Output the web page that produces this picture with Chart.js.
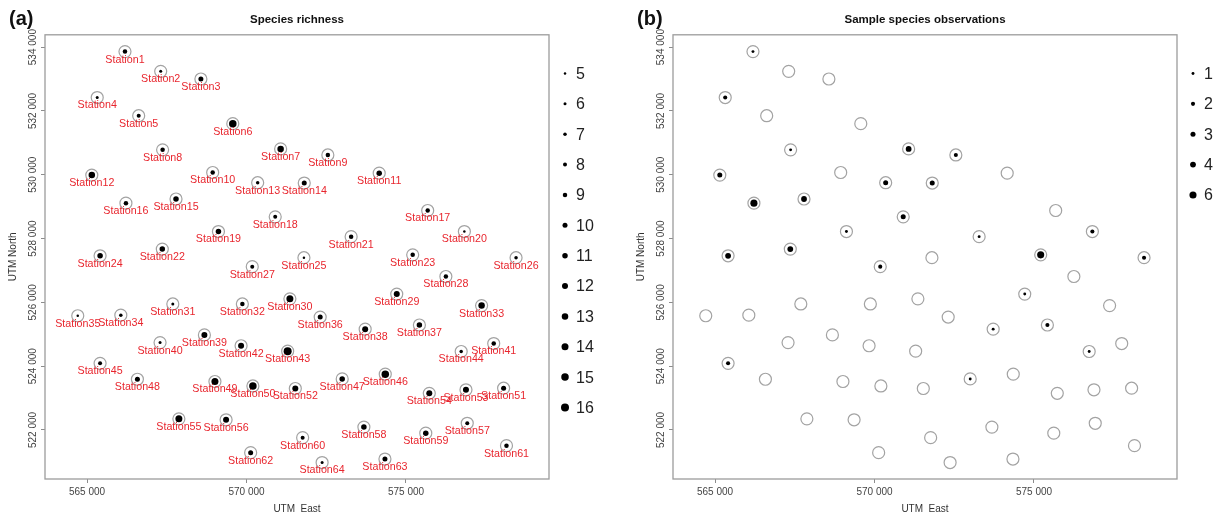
<!DOCTYPE html>
<html>
<head>
<meta charset="utf-8">
<script src="https://cdn.jsdelivr.net/npm/chart.js@4"></script>
<style>
body { margin: 0; background: #fff; width: 1226px; height: 515px; overflow: hidden; position: relative; }
canvas { position: absolute; top: 0; }
#chartA { left: 0; }
#chartB { left: 628px; }
</style>
</head>
<body>
<canvas id="chartA" width="613" height="515"></canvas>
<canvas id="chartB" width="598" height="515"></canvas>
<script>
var stations = ["Station1", "Station2", "Station3", "Station4", "Station5", "Station6", "Station7", "Station8",
	"Station9", "Station10", "Station11", "Station12", "Station13", "Station14", "Station15", "Station16",
	"Station17", "Station18", "Station19", "Station20", "Station21", "Station22", "Station23", "Station24",
	"Station25", "Station26", "Station27", "Station28", "Station29", "Station30", "Station31", "Station32",
	"Station33", "Station34", "Station35", "Station36", "Station37", "Station38", "Station39", "Station40",
	"Station41", "Station42", "Station43", "Station44", "Station45", "Station46", "Station47", "Station48",
	"Station49", "Station50", "Station51", "Station52", "Station53", "Station54", "Station55", "Station56",
	"Station57", "Station58", "Station59", "Station60", "Station61", "Station62", "Station63", "Station64"];

// UTM coordinates of the stations
var easting = [566190, 567310, 568570, 565320, 566620, 569570, 571070, 567370,
	572550, 568940, 574160, 565150, 570350, 571810, 567790, 566220,
	575680, 570900, 569120, 576830, 573280, 567360, 575210, 565410,
	571800, 578450, 570180, 576250, 574710, 571360, 567690, 569870,
	577370, 566060, 564710, 572310, 575420, 573720, 568680, 567290,
	577750, 569830, 571290, 576730, 565410, 574350, 573000, 566580,
	569010, 570200, 578060, 571530, 576880, 575730, 567880, 569360,
	576920, 573680, 575620, 571760, 578150, 570130, 574340, 572370];
var northing = [533860, 533240, 533000, 532420, 531850, 531600, 530810, 530780,
	530620, 530070, 530050, 529990, 529750, 529740, 529240, 529110,
	528880, 528680, 528220, 528220, 528060, 527670, 527490, 527460,
	527400, 527400, 527120, 526810, 526260, 526110, 525950, 525950,
	525900, 525600, 525580, 525540, 525290, 525160, 524980, 524740,
	524710, 524640, 524470, 524460, 524090, 523750, 523600, 523590,
	523520, 523380, 523310, 523300, 523260, 523150, 522350, 522320,
	522210, 522090, 521900, 521760, 521510, 521290, 521090, 520980];

var richness = [9, 6, 10, 6, 8, 15, 13, 9,
	9, 9, 11, 13, 7, 10, 11, 9,
	9, 8, 11, 5, 9, 11, 9, 11,
	5, 7, 8, 9, 12, 14, 6, 9,
	13, 7, 5, 10, 11, 12, 12, 6,
	9, 12, 16, 7, 8, 15, 11, 10,
	14, 15, 10, 12, 12, 12, 14, 12,
	8, 11, 11, 8, 9, 10, 10, 6];
var observations = [1, 0, 0, 2, 0, 0, 4, 1,
	2, 0, 0, 3, 3, 3, 4, 6,
	0, 3, 1, 2, 1, 4, 6, 4,
	0, 2, 2, 0, 1, 0, 0, 0,
	0, 0, 0, 0, 2, 1, 0, 0,
	0, 0, 0, 1, 2, 0, 1, 0,
	0, 0, 0, 0, 0, 0, 0, 0,
	0, 0, 0, 0, 0, 0, 0, 0];

var richnessLegend = [5, 6, 7, 8, 9, 10, 11, 12, 13, 14, 15, 16];
var observationLegend = [1, 2, 3, 4, 6];
var xTicks = [565000, 570000, 575000];
var yTicks = [522000, 524000, 526000, 528000, 530000, 532000, 534000];

Chart.defaults.font.family = "'Liberation Sans', Arial, sans-serif";

function fmt(v) {
	return String(v).replace(/\B(?=(\d{3})+(?!\d))/g, " ");
}
function richnessRadius(v) {
	return v / 4;
}
function obsRadius(v) {
	return v > 0 ? 1.45 * Math.sqrt(v) : 0;
}

var points = easting.map(function (e, i) {
	return { x: e, y: northing[i] };
});

// box, panel letter and size legend
var frame = {
	id: "frame",
	afterDraw: function (chart, args, o) {
		var c = chart.ctx, a = chart.chartArea;
		c.save();
		c.strokeStyle = "#9c9c9c";
		c.lineWidth = 1.3;
		c.strokeRect(a.left, a.top, a.right - a.left, a.bottom - a.top);
		c.fillStyle = "#111";
		c.font = "bold 20px 'Liberation Sans', Arial, sans-serif";
		c.textBaseline = "middle";
		c.textAlign = "left";
		c.fillText(o.letter, 9, 19);
		c.font = "16px 'Liberation Sans', Arial, sans-serif";
		o.values.forEach(function (v, i) {
			var y = 73.5 + i * 30.36;
			c.fillStyle = "#000";
			c.beginPath();
			c.arc(a.right + 16, y, o.radius(v), 0, Math.PI * 2);
			c.fill();
			c.fillStyle = "#222";
			c.fillText(v, a.right + 27, y + 1);
		});
		c.restore();
	}
};

var stationLabels = {
	id: "stationLabels",
	afterDatasetsDraw: function (chart, args, opts) {
		if (!opts.names) return;
		var c = chart.ctx;
		c.save();
		c.fillStyle = "#e8262e";
		c.font = "10.7px 'Liberation Sans', Arial, sans-serif";
		c.textAlign = "center";
		c.textBaseline = "middle";
		chart.getDatasetMeta(0).data.forEach(function (pt, i) {
			c.fillText(opts.names[i], pt.x, pt.y + 8);
		});
		c.restore();
	}
};

function panel(id, title, letter, values, radius, legendValues, names, padRight) {
	return new Chart(document.getElementById(id), {
		type: "scatter",
		data: {
			datasets: [
				{
					data: points,
					pointRadius: 6,
					pointBorderColor: "#a3a3a3",
					pointBackgroundColor: "rgba(255,255,255,0)",
					pointBorderWidth: 1.2,
				},
				{
					data: points,
					pointRadius: function (ctx) {
						return radius(values[ctx.dataIndex]);
					},
					pointBackgroundColor: "#000",
					pointBorderWidth: 0,
				},
			],
		},
		options: {
			responsive: false,
			animation: false,
			events: [],
			layout: { padding: { left: 0, right: padRight, top: 0, bottom: 0 } },
			plugins: {
				legend: { display: false },
				tooltip: { enabled: false },
				title: {
					display: true,
					text: title,
					fullSize: false,
					color: "#111",
					font: { size: 11.5, weight: "bold" },
					padding: { top: 13, bottom: 8 },
				},
				frame: { letter: letter, values: legendValues, radius: radius },
				stationLabels: { names: names },
			},
			scales: {
				x: {
					type: "linear",
					min: 563683,
					max: 579483,
					afterBuildTicks: function (s) {
						s.ticks = xTicks.map(function (v) { return { value: v }; });
					},
					afterFit: function (s) { s.height = 36; },
					grid: { drawOnChartArea: false, tickLength: 4, color: "#8c8c8c" },
					border: { display: false },
					ticks: { padding: 3, maxRotation: 0, color: "#444", font: { size: 10 }, callback: fmt },
					title: { display: true, text: "UTM  East", color: "#333", font: { size: 10 }, padding: 0 },
				},
				y: {
					type: "linear",
					min: 520464,
					max: 534386,
					afterBuildTicks: function (s) {
						s.ticks = yTicks.map(function (v) { return { value: v }; });
					},
					afterFit: function (s) { s.width = 45; },
					grid: { drawOnChartArea: false, tickLength: 4, color: "#8c8c8c" },
					border: { display: false },
					ticks: {
						padding: -10,
						minRotation: 90,
						maxRotation: 90,
						crossAlign: "center",
						color: "#444",
						font: { size: 10 },
						callback: fmt,
					},
					title: { display: true, text: "UTM North", color: "#333", font: { size: 10 }, padding: { top: 7, bottom: 0 } },
				},
			},
		},
		plugins: [frame, stationLabels],
	});
}

panel("chartA", "Species richness", "(a)", richness, richnessRadius, richnessLegend, stations, 64);
panel("chartB", "Sample species observations", "(b)", observations, obsRadius, observationLegend, null, 49);
</script>
</body>
</html>
